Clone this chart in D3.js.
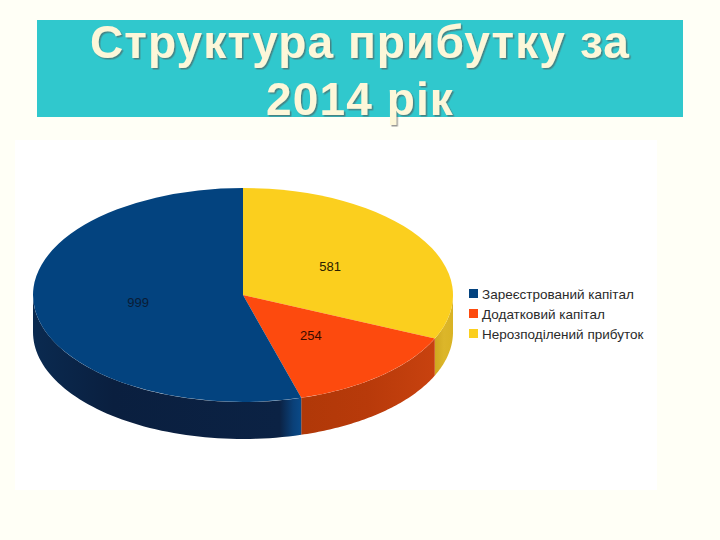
<!DOCTYPE html>
<html lang="uk">
<head>
<meta charset="utf-8">
<title>Структура прибутку за 2014 рік</title>
<script src="https://d3js.org/d3.v7.min.js"></script>
<style>
html, body { margin: 0; padding: 0; background: #fffff6; }
svg { display: block; }
text { font-family: "Liberation Sans", Arial, sans-serif; }
</style>
</head>
<body>
<div id="chart"></div>
<script>
const categories = ["Зареєстрований капітал", "Додатковий капітал", "Нерозподілений прибуток"];
const values = [999, 254, 581];
const titleLines = ["Структура прибутку за", "2014 рік"];

// drawing order round the pie, clockwise from 12 o'clock
const pieOrder = [2, 1, 0];
const topColors = ["#03437f", "#fd4a0e", "#fbcf1e"];
const labelColors = ["#0a1c36", "#3a0a00", "#2a2000"];
const wallStops = [
    [[0, "#0a2a50"], [30, "#0a1f3f"], [92, "#0b2244"], [97, "#0a4078"], [100, "#0a4a88"]],
    [[0, "#b03808"], [50, "#b83a0a"], [100, "#c8420f"]],
    [[0, "#cfa81f"], [50, "#dcb62a"], [100, "#d9b324"]]
];

const w = 720, h = 540;
const cx = 243, cy = 295, rx = 210, ry = 107, depth = 37;
const labelRadius = 0.5;

const svg = d3.select("#chart").append("svg")
    .attr("width", w)
    .attr("height", h);

const defs = svg.append("defs");

const shadow = defs.append("filter").attr("id", "titleShadow");
shadow.append("feDropShadow")
    .attr("dx", 1.5).attr("dy", 1.5)
    .attr("stdDeviation", 0.6)
    .attr("flood-color", "#555")
    .attr("flood-opacity", 0.6);

wallStops.forEach((stops, i) => {
    const g = defs.append("linearGradient").attr("id", "wall" + i);
    stops.forEach(s => {
        g.append("stop")
            .attr("offset", s[0] + "%")
            .attr("stop-color", s[1]);
    });
});

// white picture behind the chart
svg.append("rect")
    .attr("x", 15).attr("y", 140)
    .attr("width", 642).attr("height", 350)
    .attr("fill", "#ffffff");

// title band
svg.append("rect")
    .attr("x", 37).attr("y", 20)
    .attr("width", 646).attr("height", 97)
    .attr("fill", "#30c8cd");

svg.selectAll("text.title")
    .data(titleLines)
    .enter()
    .append("text")
    .attr("class", "title")
    .attr("x", 360)
    .attr("y", (d, i) => 58 + i * 57)
    .attr("text-anchor", "middle")
    .attr("filter", "url(#titleShadow)")
    .style("font-size", "46px")
    .style("font-weight", "bold")
    .style("letter-spacing", "1.1px")
    .style("fill", "#fdf7d9")
    .text(d => d);

const pie = d3.pie()
    .sort(null)
    .value(d => values[d]);
const slices = pie(pieOrder);

const xOf = a => rx * Math.sin(a);
const yOf = a => -ry * Math.cos(a);

const plot = svg.append("g").attr("transform", `translate(${cx},${cy})`);

// side wall: only the part of a slice facing the viewer (PI/2 .. 3PI/2)
function wallPath(d) {
    const a0 = Math.max(d.startAngle, Math.PI / 2);
    const a1 = Math.min(d.endAngle, Math.PI * 1.5);
    if (a1 <= a0) return null;
    const p = d3.path();
    p.moveTo(xOf(a0), yOf(a0));
    d3.range(0, 61).forEach(k => {
        const a = a0 + (a1 - a0) * k / 60;
        p.lineTo(xOf(a), yOf(a));
    });
    d3.range(60, -1, -1).forEach(k => {
        const a = a0 + (a1 - a0) * k / 60;
        p.lineTo(xOf(a), yOf(a) + depth);
    });
    p.closePath();
    return p.toString();
}

plot.selectAll("path.wall")
    .data(slices)
    .enter()
    .append("path")
    .attr("class", "wall")
    .attr("d", wallPath)
    .attr("fill", d => "url(#wall" + d.data + ")");

const arc = d3.arc().innerRadius(0).outerRadius(rx);

plot.append("g")
    .attr("transform", `scale(1,${ry / rx})`)
    .selectAll("path.top")
    .data(slices)
    .enter()
    .append("path")
    .attr("class", "top")
    .attr("d", arc)
    .attr("fill", d => topColors[d.data]);

plot.selectAll("text.val")
    .data(slices)
    .enter()
    .append("text")
    .attr("class", "val")
    .attr("x", d => xOf((d.startAngle + d.endAngle) / 2) * labelRadius - 1)
    .attr("y", d => yOf((d.startAngle + d.endAngle) / 2) * labelRadius + 5)
    .attr("text-anchor", "middle")
    .style("font-size", "13px")
    .style("fill", d => labelColors[d.data])
    .text(d => values[d.data]);

// legend
const legend = svg.append("g").attr("transform", "translate(469,294)");
const rows = legend.selectAll("g")
    .data(categories)
    .enter()
    .append("g")
    .attr("transform", (d, i) => `translate(0,${i * 20})`);

rows.append("rect")
    .attr("x", 0).attr("y", -5)
    .attr("width", 9).attr("height", 9)
    .attr("fill", (d, i) => topColors[i]);

rows.append("text")
    .attr("x", 13)
    .attr("y", 5)
    .style("font-size", "13.5px")
    .style("fill", "#2a2a2a")
    .text(d => d);
</script>
</body>
</html>
